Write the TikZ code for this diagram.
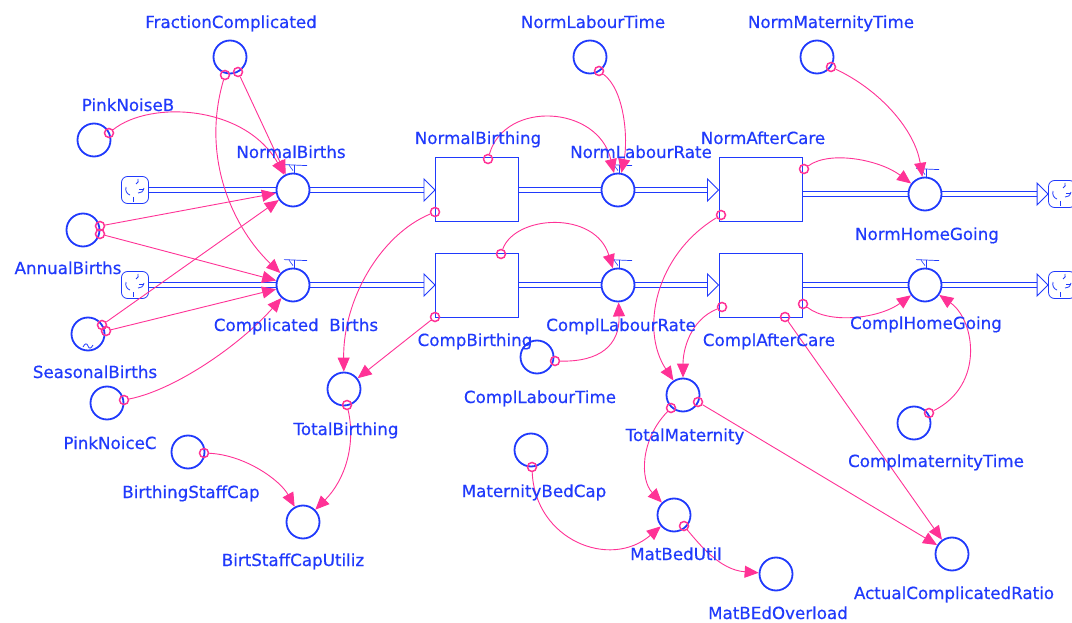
\documentclass[tikz,border=0pt]{standalone}
\usepackage{fontspec}
\setmainfont{DejaVu Sans}
\newfontfamily\lblfont{DejaVu Sans}[FakeBold=0.45]
\usetikzlibrary{arrows.meta}
\definecolor{sb}{RGB}{32,58,252}
\definecolor{pk}{RGB}{255,50,150}
\newcommand{\valvehandle}[1]{%
  \draw[sb, line width=0.7pt] ([shift={(-9,-8)}]#1.north) -- ([shift={(14,-7)}]#1.north);
  \draw[sb, line width=0.9pt] ([shift={(1,-7.5)}]#1.north) -- ([shift={(1,0)}]#1.north);
  \draw[sb, line width=0.6pt] ([shift={(-4,-7.5)}]#1.north) -- ([shift={(0,-2)}]#1.north);}
\newcommand{\cloudmark}[1]{%
  \begin{scope}[shift={(#1)}, sb, line width=0.8pt]
    \draw (-9,-3) .. controls (-10,1) and (-8,4) .. (-5,5);
    \draw (3,-11) .. controls (4,-9) and (3,-7) .. (1,-6);
    \draw (9,-2) .. controls (8,2) and (6,3) .. (3,3);
    \draw (-2,7) -- (-2,12);
    \draw (4,-1) -- (8,-1);
  \end{scope}}
\newcommand{\pipetip}[1]{%
  \draw[sb, line width=0.9pt, fill=white] (#1) -- ++(-11,-11) -- ++(0,22) -- cycle;}
\newcommand{\pipeline}[2]{%
  \draw[sb, line width=0.9pt] ([yshift=2.3pt]#1) -- ([yshift=2.3pt]#2)
                              ([yshift=-2.3pt]#1) -- ([yshift=-2.3pt]#2);}
\begin{document}
\begin{tikzpicture}[x=1pt, y=-1pt,
  aux/.style={circle, draw=sb, line width=1.8pt, minimum size=33pt, inner sep=0pt, fill=white},
  stockbox/.style={draw=sb, line width=1pt, minimum width=83pt, minimum height=64pt, inner sep=0pt, fill=white},
  cloudbox/.style={draw=sb, line width=0.8pt, rounded corners=6pt, minimum size=27pt, inner sep=0pt, fill=white},
  lbl/.style={text=sb, font=\lblfont\fontsize{16.7}{18}\selectfont, inner sep=0pt, anchor=base},
  link/.style={pk, line width=0.9pt, -{Triangle[length=14pt,width=12pt]}},
  mk/.style={circle, draw=pk, line width=1.5pt, minimum size=9pt, inner sep=0pt},
  ]
\useasboundingbox (0,0) rectangle (1072,623);
\clip (0,0) rectangle (1072,623);
\fill[white] (0,0) rectangle (1072,623);

% clouds and stocks
\node[cloudbox] (cs1) at (135,190) {};
\node[cloudbox] (cs2) at (135,285) {};
\node[cloudbox] (ck1) at (1062,194) {};
\node[cloudbox] (ck2) at (1062,285) {};
\node[stockbox] (nbox) at (477,190) {};
\node[stockbox] (cbox) at (477,285) {};
\node[stockbox] (nac) at (760.5,190) {};
\node[stockbox] (cac) at (760.5,285) {};
\coordinate (nacout) at (nac.east |- ck1);
\coordinate (e1) at ([xshift=-11pt]nbox.west);
\coordinate (e2) at ([xshift=-11pt]nac.west);
\coordinate (e3) at ([xshift=-11pt]ck1.west);
\coordinate (e4) at ([xshift=-11pt]cbox.west);
\coordinate (e5) at ([xshift=-11pt]cac.west);
\coordinate (e6) at ([xshift=-11pt]ck2.west);

% pipes
\pipeline{cs1.east}{e1}
\pipeline{nbox.east}{e2}
\pipeline{nacout}{e3}
\pipeline{cs2.east}{e4}
\pipeline{cbox.east}{e5}
\pipeline{cac.east}{e6}
\pipetip{nbox.west}
\pipetip{nac.west}
\pipetip{ck1.west}
\pipetip{cbox.west}
\pipetip{cac.west}
\pipetip{ck2.west}
\cloudmark{cs1}
\cloudmark{cs2}
\cloudmark{ck1}
\cloudmark{ck2}

% valves
\node[aux] (nb) at (293,190) {};
\node[aux] (cb) at (293,285) {};
\node[aux] (nlr) at (618,190) {};
\node[aux] (clr) at (618,285) {};
\node[aux] (nhg) at (925,194) {};
\node[aux] (chg) at (925,285) {};
\valvehandle{nb}
\valvehandle{cb}
\valvehandle{nlr}
\valvehandle{clr}
\valvehandle{nhg}
\valvehandle{chg}

% auxiliaries
\node[aux] (fc) at (230,57) {};
\node[aux] (pnb) at (94,140) {};
\node[aux] (ab) at (83,230) {};
\node[aux] (sbir) at (88,334) {};
\node[aux] (pnc) at (107,403) {};
\node[aux] (tb) at (344,389) {};
\node[aux] (bsc) at (188,452) {};
\node[aux] (bscu) at (303,522) {};
\node[aux] (nlt) at (590,57) {};
\node[aux] (clt) at (537,357) {};
\node[aux] (nmt) at (817,57) {};
\node[aux] (tm) at (683,395) {};
\node[aux] (mbc) at (531,450) {};
\node[aux] (mbu) at (674,515) {};
\node[aux] (mbo) at (776,574) {};
\node[aux] (acr) at (952,554) {};
\node[aux] (cmt) at (914,423) {};
\draw[sb, line width=0.8pt] (83,347) .. controls (85,343) and (87,343) .. (88,346) .. controls (89,349) and (91,349) .. (93,345);

% markers
\node[mk] (m1) at (238,72) {};
\node[mk] (m2) at (225,75) {};
\node[mk] (m3) at (109,133) {};
\node[mk] (m4) at (100,226) {};
\node[mk] (m5) at (100,234) {};
\node[mk] (m6) at (102,325) {};
\node[mk] (m7) at (106,331) {};
\node[mk] (m8) at (124,400) {};
\node[mk] (m9) at (435,212) {};
\node[mk] (m10) at (435,317) {};
\node[mk] (m11) at (347,405) {};
\node[mk] (m12) at (204,453) {};
\node[mk] (m13) at (488,159) {};
\node[mk] (m14) at (599,71) {};
\node[mk] (m15) at (501,254) {};
\node[mk] (m16) at (555,361) {};
\node[mk] (m17) at (804,169) {};
\node[mk] (m18) at (831,67) {};
\node[mk] (m19) at (721,215) {};
\node[mk] (m20) at (722,307) {};
\node[mk] (m21) at (803,304) {};
\node[mk] (m22) at (929,413) {};
\node[mk] (m23) at (785,317) {};
\node[mk] (m24) at (698,402) {};
\node[mk] (m25) at (671,408) {};
\node[mk] (m26) at (532,467) {};
\node[mk] (m27) at (684,526) {};

% connectors
\draw[link] (m1) -- (nb);
\draw[link] (m2) .. controls (200,160) and (235,230) .. (cb);
\draw[link] (m3) .. controls (150,100) and (245,105) .. (nb);
\draw[link] (m4) -- (nb);
\draw[link] (m5) -- (cb);
\draw[link] (m6) -- (nb);
\draw[link] (m7) -- (cb);
\draw[link] (m8) .. controls (175,390) and (240,345) .. (cb);
\draw[link] (m9) .. controls (380,235) and (343,300) .. (tb);
\draw[link] (m10) -- (tb);
\draw[link] (m11) .. controls (356,445) and (345,480) .. (bscu);
\draw[link] (m12) .. controls (245,455) and (280,480) .. (bscu);
\draw[link] (m13) .. controls (505,100) and (598,105) .. (nlr);
\draw[link] (m14) .. controls (625,90) and (628,140) .. (nlr);
\draw[link] (m15) .. controls (515,215) and (595,210) .. (clr);
\draw[link] (m16) .. controls (600,362) and (620,345) .. (clr);
\draw[link] (m17) .. controls (830,150) and (880,160) .. (nhg);
\draw[link] (m18) .. controls (880,90) and (915,130) .. (nhg);
\draw[link] (m19) .. controls (655,255) and (640,330) .. (tm);
\draw[link] (m20) .. controls (690,320) and (683,350) .. (tm);
\draw[link] (m21) .. controls (830,325) and (880,318) .. (chg);
\draw[link] (m22) .. controls (985,385) and (975,320) .. (chg);
\draw[link] (m23) -- (acr);
\draw[link] (m24) -- (acr);
\draw[link] (m25) .. controls (640,440) and (640,480) .. (mbu);
\draw[link] (m26) .. controls (535,540) and (610,570) .. (mbu);
\draw[link] (m27) .. controls (700,545) and (720,570) .. (mbo);

% labels
\node[lbl] (lfc) at (231,28) {FractionComplicated};
\node[lbl] (lpnb) at (128,111) {PinkNoiseB};
\node[lbl] (lnb) at (291,158) {NormalBirths};
\node[lbl] (lab) at (68,274) {AnnualBirths};
\node[lbl] (lcb) at (296,331) {Complicated\ \ Births};
\node[lbl] (lsb) at (95,378) {SeasonalBirths};
\node[lbl] (lpnc) at (110,449) {PinkNoiceC};
\node[lbl] (ltb) at (346,435) {TotalBirthing};
\node[lbl] (lbsc) at (191,498) {BirthingStaffCap};
\node[lbl] (lbscu) at (293,566) {BirtStaffCapUtiliz};
\node[lbl] (lnbox) at (478,144) {NormalBirthing};
\node[lbl] (lcbox) at (475,346) {CompBirthing};
\node[lbl] (lnlt) at (593,28) {NormLabourTime};
\node[lbl] (lnlr) at (641,158) {NormLabourRate};
\node[lbl] (lclr) at (621,331) {ComplLabourRate};
\node[lbl] (lclt) at (540,403) {ComplLabourTime};
\node[lbl] (lnac) at (763,144) {NormAfterCare};
\node[lbl] (lcac) at (769,346) {ComplAfterCare};
\node[lbl] (lnmt) at (831,28) {NormMaternityTime};
\node[lbl] (lnhg) at (927,240) {NormHomeGoing};
\node[lbl] (lchg) at (926,329) {ComplHomeGoing};
\node[lbl] (lcmt) at (936,467) {ComplmaternityTime};
\node[lbl] (ltm) at (685,441) {TotalMaternity};
\node[lbl] (lmbc) at (534,497) {MaternityBedCap};
\node[lbl] (lmbu) at (676,560) {MatBedUtil};
\node[lbl] (lmbo) at (778,619) {MatBEdOverload};
\node[lbl] (lacr) at (954,599) {ActualComplicatedRatio};
\end{tikzpicture}
\end{document}
